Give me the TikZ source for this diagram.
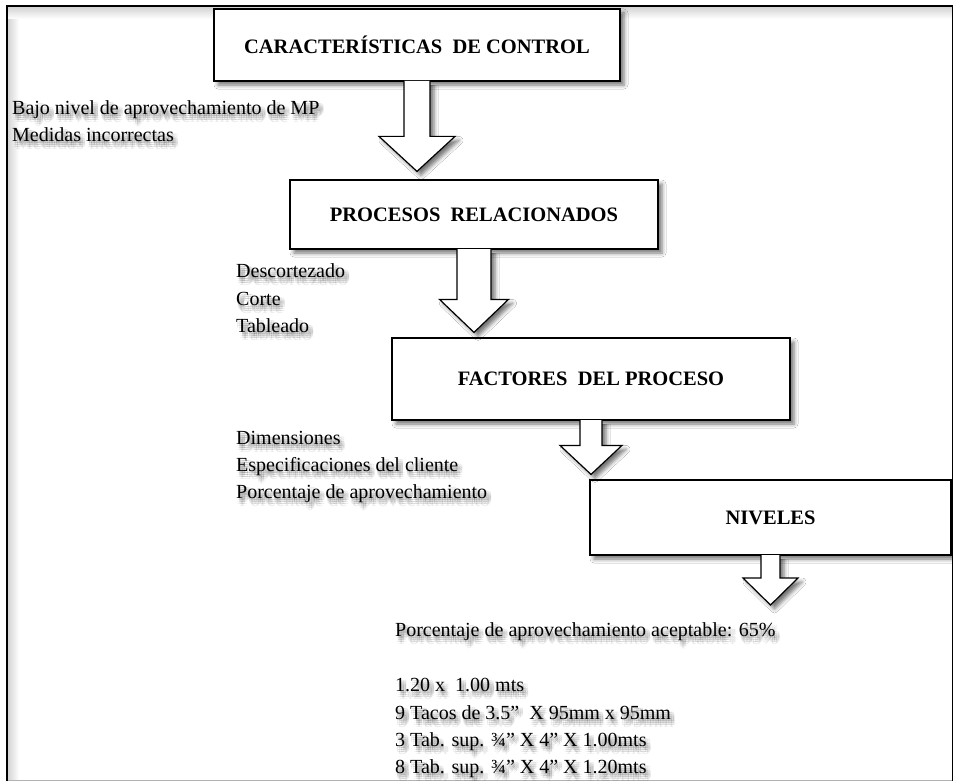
\documentclass[tikz,border=0pt]{standalone}
\usepackage{fontspec}
\setmainfont{Liberation Serif}
\usetikzlibrary{calc,shadows.blur}

\tikzset{
  softshadow/.style={blur shadow={shadow xshift=4pt, shadow yshift=-4pt,
      shadow blur radius=4pt, shadow opacity=55}},
  stagebox/.style={draw=black, line width=1.2pt, fill=white, inner sep=0pt,
      font=\fontsize{20.5}{24}\selectfont\bfseries, softshadow},
  blockarr/.style={draw=black, line width=1.2pt, fill=white, line join=miter, softshadow},
  linetext/.style={anchor=base west, inner sep=0pt, font=\fontsize{20}{24}\selectfont},
  ghost/.style={linetext, text opacity=0.075},
}

% one line of text with a soft grey shadow under it
\newcommand\shadedline[3]{%
  \foreach \sx/\sy in {1/-2,3/-2,5/-2,1/-4,3/-4,5/-4,1/-6,3/-6,5/-6,3/-8}{%
    \node[ghost, xshift=\sx pt, yshift=\sy pt] at (#2) {#3};}%
  \node[linetext] (#1) at (#2) {#3};}

% hollow block arrow hanging from a box down to a tip point
\newcommand\flowarrow[5]{%
  \path[blockarr] let \p1=(#1.south), \p2=(#2) in
    (\x1-#3pt,\y1+0.6pt) -- (\x1-#3pt,\y2+#5pt) -- (\x1-#4pt,\y2+#5pt) -- (\x1,\y2)
    -- (\x1+#4pt,\y2+#5pt) -- (\x1+#3pt,\y2+#5pt) -- (\x1+#3pt,\y1+0.6pt);}

\begin{document}
\begin{tikzpicture}[x=1pt, y=-1pt]
\useasboundingbox (0,0) rectangle (953,781);
\fill[white] (0,0) rectangle (953,781);

% frame with its inner shading
\shade[left color=black!17, right color=white] (7.5,7) rectangle (19,780);
\shade[top color=black!17, bottom color=white] (7.5,7) rectangle (952,19);
\draw[black!30, line width=1pt] (7,780.5) -- (953,780.5);
\draw[black, line width=2pt] (6.5,781) -- (6.5,6) -- (953,6);
\draw[black, line width=1.2pt] (952.4,6) -- (952.4,781);

% stage boxes
\node[stagebox, minimum width=406pt, minimum height=72pt] (b1) at (417,45)
  {CARACTERÍSTICAS\ \ DE CONTROL};
\node[stagebox, minimum width=368pt, minimum height=69pt] (b2) at (474,214.5)
  {PROCESOS\ \ RELACIONADOS};
\node[stagebox, minimum width=398pt, minimum height=82pt] (b3) at (591,379)
  {FACTORES\ \ DEL PROCESO};
\node[stagebox, minimum width=361pt, minimum height=75pt] (b4) at (770.5,517.5)
  {NIVELES};
\coordinate (tip4) at (770.5,605);

% arrows between the stages
\flowarrow{b1}{[yshift=8pt]b2.north}{13}{38}{35}
\flowarrow{b2}{[yshift=5pt]b3.north}{17}{34.5}{33}
\flowarrow{b3}{[yshift=5pt]b4.north}{11}{31}{29}
\flowarrow{b4}{tip4}{9.5}{27.5}{27}

% notes beside the stages
\shadedline{c1}{12,115}{Bajo nivel de aprovechamiento de MP}
\shadedline{c2}{12,141.5}{Medidas incorrectas}

\shadedline{p1}{236,277.3}{Descortezado}
\shadedline{p2}{236,305}{Corte}
\shadedline{p3}{236,332.3}{Tableado}

\shadedline{f1}{236,444}{Dimensiones}
\shadedline{f2}{236,471}{Especificaciones del cliente}
\shadedline{f3}{236,498.3}{Porcentaje de aprovechamiento}

\shadedline{n1}{395,636.7}{Porcentaje de aprovechamiento aceptable: 65\%}
\shadedline{n2}{395,691.7}{1.20 x\ \ 1.00 mts}
\shadedline{n3}{395,719}{9 Tacos de 3.5”\ \ X 95mm x 95mm}
\shadedline{n4}{395,746.3}{3 Tab. sup. ¾” X 4” X 1.00mts}
\shadedline{n5}{395,773.5}{8 Tab. sup. ¾” X 4” X 1.20mts}
\end{tikzpicture}
\end{document}
